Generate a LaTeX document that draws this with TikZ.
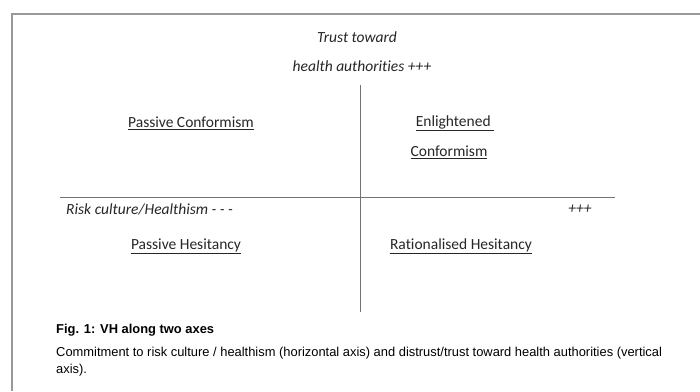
\documentclass[tikz,border=0pt]{standalone}
\usepackage{fontspec}
\setmainfont{Carlito}[Ligatures=CommonOff]
\newfontfamily\arialfont{Liberation Sans}
\usetikzlibrary{positioning}
\tikzstyle{quad} = [font=\fontsize{15.5}{18}\selectfont, inner sep=0pt, text=black!85]
\tikzstyle{axislabel} = [font=\fontsize{15.5}{18}\selectfont\itshape, inner sep=0pt, text=black!85]
\tikzstyle{axis} = [draw=black!55, line width=0.9pt]
\tikzstyle{caption} = [font=\arialfont\fontsize{12.9}{15}\selectfont, inner sep=0pt, anchor=west]

\begin{document}
\begin{tikzpicture}[x=1pt,y=-1pt]
\useasboundingbox (0,0) rectangle (700,391);
% page edge
\draw[black!40, line width=2pt] (12,391) -- (12,14) -- (700,14);
% axes
\coordinate (top) at (360,85);
\coordinate (bottom) at (360,312);
\coordinate (left) at (60,197);
\coordinate (right) at (615,197);
\path[axis] (top)--(bottom);
\path[axis] (left)--(right);
% axis labels
\node[axislabel] (trust1) at (357,37) {Trust toward};
\node[axislabel] (trust2) at (362,66) {health authorities +++};
\node[axislabel, anchor=west] (risk) at (66,209) {Risk culture/Healthism - - -};
\node[axislabel] (plus) at (580,209) {+++};
% quadrants
\node[quad] (pc) at (191,123) {\underline{Passive Conformism}};
\node[quad] (ec1) at (455,123) {\underline{Enlightened\ }};
\node[quad] (ec2) at (449,152) {\underline{Conformism}};
\node[quad] (ph) at (186,246) {\underline{Passive Hesitancy}};
\node[quad] (rh) at (461,246) {\underline{Rationalised Hesitancy}};
% caption
\node[caption, font=\arialfont\bfseries\fontsize{12.9}{15}\selectfont] (fig) at (56,330) {Fig. 1: VH along two axes};
\node[caption] (cap1) at (56,353) {Commitment to risk culture / healthism (horizontal axis) and distrust/trust toward health authorities (vertical};
\node[caption] (cap2) at (56,370) {axis).};
\end{tikzpicture}
\end{document}
